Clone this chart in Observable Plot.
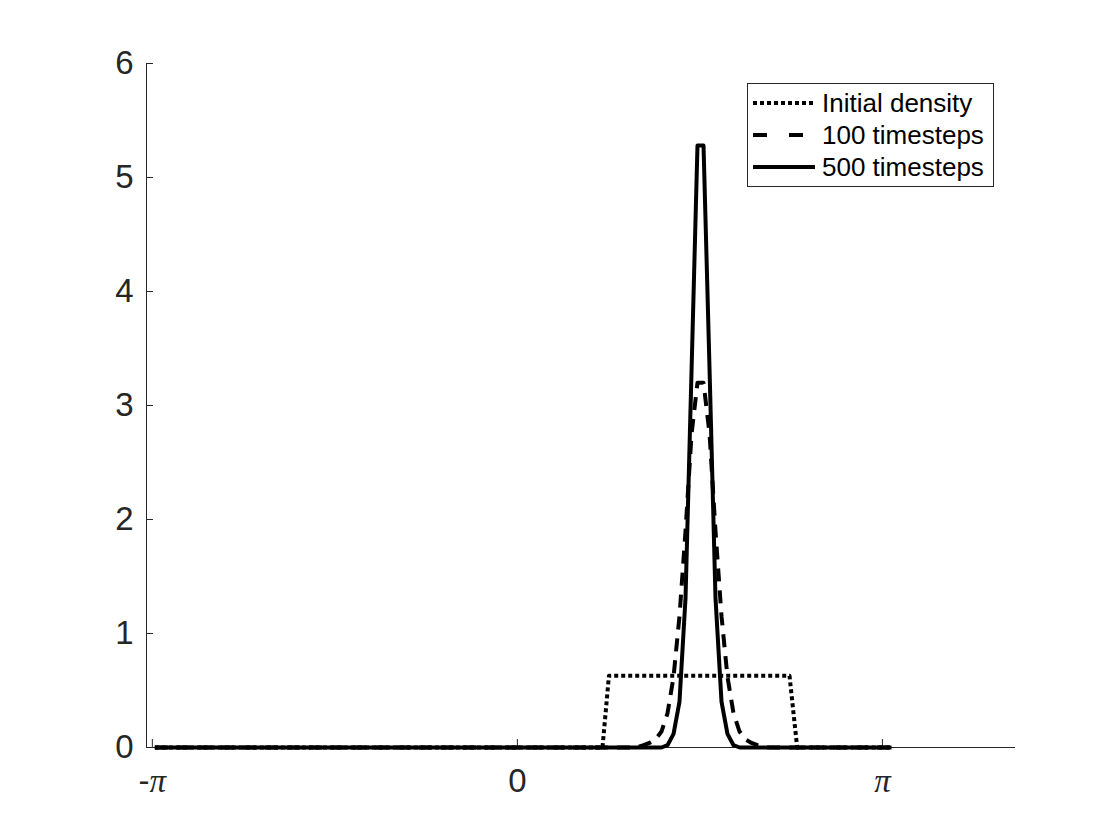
<!DOCTYPE html>
<html><head><meta charset="utf-8">
<script src="https://cdn.jsdelivr.net/npm/d3@7"></script>
<script src="https://cdn.jsdelivr.net/npm/@observablehq/plot@0.6"></script>
<style>
body{margin:0;background:#fff;}
#wrap{position:relative;width:1120px;height:840px;}
</style></head><body><div id="wrap"></div>
<script>
// ---- data ----
const xStart = -3.12, xEnd = 3.22;
const initialX = [xStart, 0.7325, 0.788, 2.342, 2.408, xEnd];
const initialY = [0, 0, 0.63, 0.63, 0, 0];
const peakX = [0.982, 1.034, 1.085, 1.137, 1.189, 1.240, 1.292, 1.344, 1.395, 1.447, 1.499, 1.550,
               1.602, 1.654, 1.705, 1.757, 1.808, 1.860, 1.912, 1.963, 2.015, 2.067, 2.118, 2.170];
const steps100 = [0, 0.005, 0.02, 0.04, 0.07, 0.14, 0.30, 0.62, 1.15, 1.90, 2.75, 3.20,
                  3.20, 2.75, 1.90, 1.15, 0.62, 0.30, 0.14, 0.07, 0.04, 0.02, 0.005, 0];
const steps500 = [0, 0, 0, 0, 0, 0, 0.02, 0.12, 0.40, 1.31, 3.31, 5.28,
                  5.28, 3.31, 1.31, 0.40, 0.12, 0.02, 0, 0, 0, 0, 0, 0];
const seriesNames = ["Initial density", "100 timesteps", "500 timesteps"];
const xTicks = [-Math.PI, 0, Math.PI];
const xTickLabels = ["-π", "0", "π"];
const yTicks = [0, 1, 2, 3, 4, 5, 6];
const xDomain = [-3.192, 4.287];
const yDomain = [0, 6];

// ---- build rows ----
const rows = [];
initialX.forEach((x, i) => rows.push({s: seriesNames[0], x, y: initialY[i]}));
rows.push({s: seriesNames[1], x: xStart, y: 0});
peakX.forEach((x, i) => rows.push({s: seriesNames[1], x, y: steps100[i]}));
rows.push({s: seriesNames[1], x: xEnd, y: 0});
rows.push({s: seriesNames[2], x: xStart, y: 0});
peakX.forEach((x, i) => rows.push({s: seriesNames[2], x, y: steps500[i]}));
rows.push({s: seriesNames[2], x: xEnd, y: 0});

const W = 1120, H = 840, mL = 146, mR = 105, mT = 63, mB = 93;
const plotW = W - mL - mR, plotH = H - mT - mB;
const axisColor = "#262626";
const dashes = ["4,3", "13,9", null];

const lineMarks = seriesNames.map((name, i) => Plot.line(rows.filter(r => r.s === name), {
  x: "x", y: "y", stroke: "black", strokeWidth: 4,
  strokeDasharray: dashes[i], strokeLinejoin: "round", strokeLinecap: "butt"
}));

const chart = Plot.plot({
  width: W, height: H,
  marginLeft: mL, marginRight: mR, marginTop: mT, marginBottom: mB,
  x: {domain: xDomain, label: null},
  y: {domain: yDomain, label: null},
  style: {fontFamily: "Liberation Sans, Arial, sans-serif", fontSize: "33px", color: axisColor, background: "white"},
  marks: [
    Plot.ruleX([xDomain[0]], {stroke: axisColor, strokeWidth: 1}),
    Plot.ruleY([0], {stroke: axisColor, strokeWidth: 1}),
    Plot.tickY(yTicks, {y: d => d, stroke: axisColor, insetRight: plotW - 7}),
    Plot.tickX(xTicks, {x: d => d, stroke: axisColor, insetTop: plotH - 8}),
    Plot.axisY({ticks: yTicks, tickSize: 0, tickPadding: 13, label: null, tickFormat: d => String(d), fontSize: 33}),
    Plot.axisX({ticks: xTicks, tickSize: 0, tickPadding: 21, label: null, tickFormat: d => xTickLabels[xTicks.indexOf(d)], fontSize: 33}),
    ...lineMarks
  ]
});

d3.select(chart).selectAll('[aria-label="x-axis tick label"] text').each(function() {
  const t = this.textContent;
  if (t.includes("π")) {
    const sel = d3.select(this);
    sel.text(null);
    for (const ch of t) {
      const ts = sel.append("tspan").text(ch);
      if (ch === "π") ts.attr("font-family", "Liberation Serif, serif").attr("font-style", "italic");
    }
  }
});

const wrap = document.getElementById("wrap");
wrap.appendChild(chart);

// ---- legend (inside the axes, top right) ----
const legendDash = ["4,3", "14,22", null];
const leg = d3.select(wrap).append("svg")
  .attr("width", W).attr("height", H)
  .style("position", "absolute").style("left", "0px").style("top", "0px");
leg.append("rect").attr("x", 747.5).attr("y", 83.5).attr("width", 246).attr("height", 103)
  .attr("fill", "white").attr("stroke", axisColor).attr("stroke-width", 1);
seriesNames.forEach((name, i) => {
  const cy = 103 + i * 32;
  leg.append("line").attr("x1", 753).attr("x2", 815).attr("y1", cy).attr("y2", cy)
    .attr("stroke", "black").attr("stroke-width", 4)
    .attr("stroke-dasharray", legendDash[i]);
  leg.append("text").attr("x", 822).attr("y", cy + 9).text(name)
    .attr("font-family", "Liberation Sans, Arial, sans-serif").attr("font-size", 26).attr("fill", "#000");
});
</script>
</body></html>
